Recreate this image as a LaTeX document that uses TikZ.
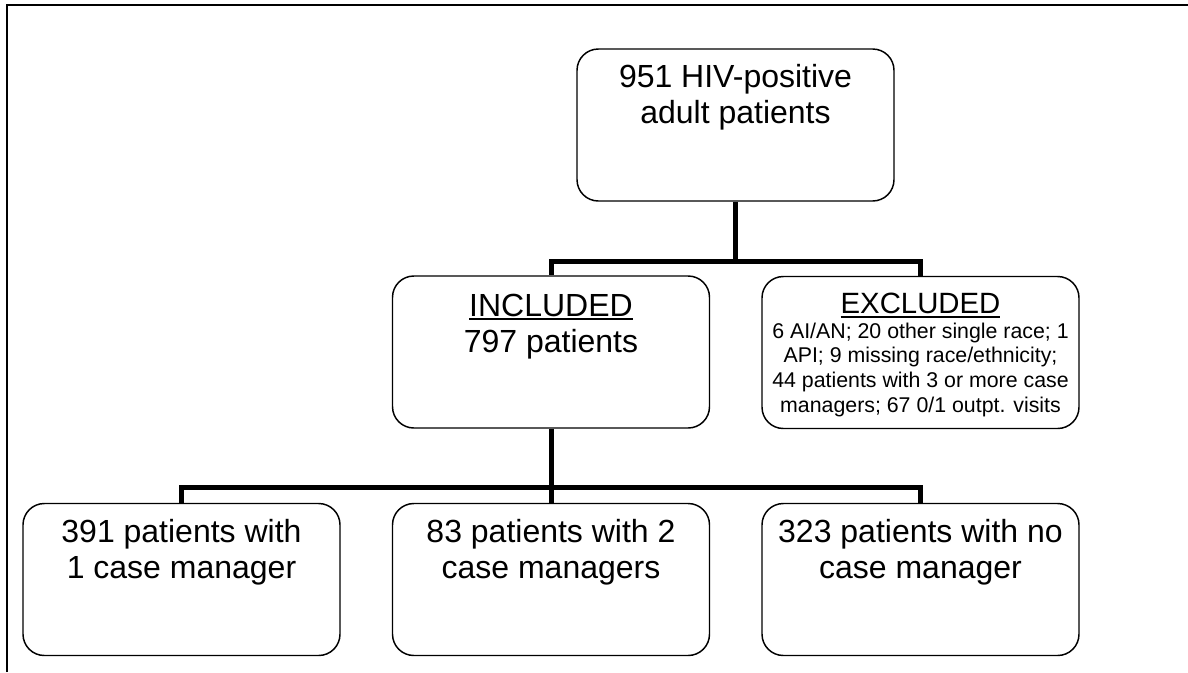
\documentclass[tikz,border=0pt]{standalone}
\usepackage{fontspec}
\setmainfont{Liberation Sans}
\usepackage{tikz}
\tikzstyle{casebox} = [draw=black, line width=1.1pt, fill=white,
    rectangle, rounded corners=16pt, inner sep=0pt,
    minimum width=237.75pt, minimum height=114pt]
\tikzstyle{branch} = [draw=black, line width=3.75pt]
\tikzstyle{frameline} = [draw=black, line width=1.8pt]
\newcommand{\casetext}[2][29pt]{\parbox[t][114pt][t]{232pt}{\centering\fontsize{24}{27}\selectfont\rule{0pt}{#1}#2}}
\newcommand{\ulhead}[1]{\setbox0\hbox{#1}\rlap{\rule[-3.25pt]{\wd0}{1.5pt}}\box0}
\begin{document}
\begin{tikzpicture}[x=0.75pt, y=-0.75pt]
                \useasboundingbox (0,0) rectangle (1188,672);
                \draw[frameline] (7,672) -- (7,5) -- (1188,5);
                % boxes
                \node [casebox] (top) at (735.5,125) {\casetext{951 HIV-positive\\adult patients}};
                \node [casebox] (incl) at (551,352) {\casetext[30pt]{\ulhead{INCLUDED}\\797 patients}};
                \node [casebox] (excl) at (920.5,352.5) {\casetext[27.75pt]{\fontsize{22}{25}\selectfont\ulhead{EXCLUDED}\\
                    \fontsize{16}{18.5}\selectfont 6 AI/AN; 20 other single race; 1\\
                    API; 9 missing race/ethnicity;\\
                    44 patients with 3 or more case\\
                    managers; 67 0/1 outpt. visits}};
                \node [casebox] (one) at (181.5,579.5) {\casetext{391 patients with\\1 case manager}};
                \node [casebox] (two) at (551,579.5) {\casetext{83 patients with 2\\case managers}};
                \node [casebox] (none) at (920.5,579.5) {\casetext{323 patients with no\\case manager}};
                % connectors
                \coordinate (split1) at (735.5,261);
                \draw[branch] (top.south) -- (split1) -| (incl.north);
                \draw[branch] (split1) -| (excl.north);
                \coordinate (split2) at (551,487);
                \draw[branch] (incl.south) -- (split2) -| (one.north);
                \draw[branch] (split2) -- (two.north);
                \draw[branch] (split2) -| (none.north);
            \end{tikzpicture}
\end{document}
